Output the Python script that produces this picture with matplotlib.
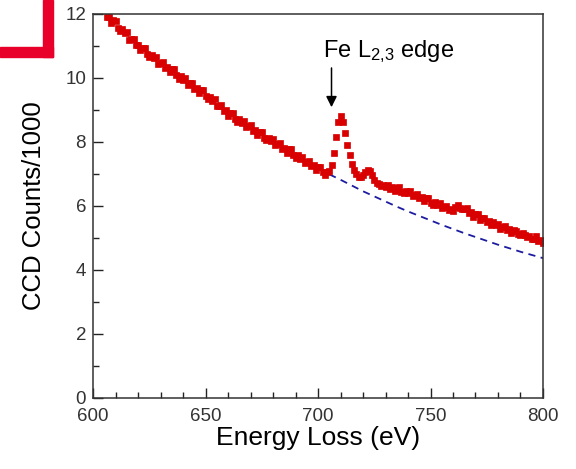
import numpy as np
import matplotlib
matplotlib.use("Agg")
import matplotlib.pyplot as plt
from matplotlib.ticker import MultipleLocator

plt.rcParams['font.family'] = ['Liberation Sans', 'DejaVu Sans']
plt.rcParams['mathtext.fontset'] = 'custom'
plt.rcParams['mathtext.rm'] = 'Liberation Sans'
plt.rcParams['mathtext.default'] = 'regular'

# espectro medido (eV, cuentas/1000), un punto por eV
energia = np.arange(606, 801)
cuentas = [
    11.90, 11.91, 11.72, 11.81, 11.78, 11.57, 11.46, 11.53, 11.39, 11.43,
    11.20, 11.21, 11.22, 11.02, 11.03, 10.86, 10.95, 10.94, 10.74, 10.65,
    10.73, 10.61, 10.66, 10.45, 10.48, 10.50, 10.32, 10.35, 10.18, 10.28,
    10.27, 10.08, 9.98, 10.06, 9.94, 10.00, 9.79, 9.83, 9.85, 9.67,
    9.70, 9.53, 9.63, 9.62, 9.43, 9.33, 9.41, 9.28, 9.33, 9.11,
    9.13, 9.15, 8.96, 8.99, 8.81, 8.91, 8.91, 8.72, 8.64, 8.72,
    8.60, 8.67, 8.46, 8.50, 8.52, 8.35, 8.38, 8.22, 8.32, 8.32,
    8.14, 8.06, 8.14, 8.03, 8.10, 7.90, 7.93, 7.96, 7.78, 7.82,
    7.66, 7.77, 7.77, 7.58, 7.50, 7.59, 7.48, 7.54, 7.34, 7.38,
    7.41, 7.24, 7.27, 7.11, 7.22, 7.22, 7.05, 6.97, 7.07,
    7.10, 7.28, 7.65, 8.15, 8.62, 8.80, 8.62, 8.28, 7.92, 7.58,
    7.30, 7.12, 7.00, 6.92, 6.90, 6.96, 7.06, 7.12, 7.08, 6.96,
    6.82, 6.72, 6.68, 6.64, 6.66, 6.60,
    6.66, 6.54, 6.58, 6.47, 6.57, 6.58, 6.45, 6.40, 6.48, 6.40,
    6.46, 6.30, 6.34, 6.36, 6.24, 6.27, 6.15, 6.24, 6.24, 6.10,
    6.04, 6.12, 6.03, 6.10, 5.94, 5.98, 6.00, 5.87, 5.91, 5.83,
    5.97, 6.03, 5.94, 5.91, 5.92, 5.93, 5.79, 5.80, 5.67, 5.75,
    5.75, 5.57, 5.61, 5.63, 5.49, 5.52, 5.41, 5.49, 5.42, 5.44,
    5.29, 5.34, 5.36, 5.24, 5.27, 5.15, 5.24, 5.21, 5.13, 5.10,
    5.17, 5.08, 5.03, 5.05, 4.97, 4.98, 5.06, 4.90, 4.95, 4.84,
]

# fondo ajustado bajo el borde
energia_fondo = [705, 710, 715, 720, 725, 730, 735, 740, 745, 750,
                 755, 760, 765, 770, 775, 780, 785, 790, 795, 800]
fondo = [6.99, 6.82, 6.64, 6.46, 6.30, 6.14, 5.98, 5.83, 5.69, 5.55,
         5.41, 5.28, 5.15, 5.03, 4.91, 4.79, 4.68, 4.57, 4.47, 4.37]

fig = plt.figure(figsize=(5.76, 4.69), dpi=100)
ax = fig.add_axes([0.1615, 0.1514, 0.7812, 0.8188])

ax.plot(energia_fondo, fondo, color='#1c1ca0', lw=1.3, ls=(0, (4, 3)))
ax.plot(energia, cuentas, 's', color='#d80000', ms=3.8, mec='#d80000', mew=0.5)

ax.set_xlim(600, 800)
ax.set_ylim(0, 12)
ax.xaxis.set_major_locator(MultipleLocator(50))
ax.xaxis.set_minor_locator(MultipleLocator(10))
ax.yaxis.set_major_locator(MultipleLocator(2))
ax.yaxis.set_minor_locator(MultipleLocator(1))
ax.tick_params(which='both', direction='in', top=False, right=False,
               labelsize=13.5, labelcolor='#333333', color='#222222')
ax.tick_params(which='major', length=7, width=1)
ax.tick_params(which='minor', length=4, width=1)
ax.tick_params(axis='x', pad=7)
ax.tick_params(axis='y', pad=5)
for s in ax.spines.values():
    s.set_color('#333333')
    s.set_linewidth(1.1)

ax.set_xlabel('Energy Loss (eV)', fontsize=19, labelpad=1)
ax.set_ylabel('CCD Counts/1000', fontsize=18.5, labelpad=14)

ax.text(702, 10.66, 'Fe L$_{2{,}3}$ edge', fontsize=17, va='baseline')
ax.annotate('', xy=(706, 9.0), xytext=(706, 10.4),
            arrowprops=dict(arrowstyle='-|>', color='black', lw=1.1,
                            mutation_scale=16))

# esquina roja de la diapositiva
fig.patches.append(plt.Rectangle((43 / 576, 1 - 57 / 469), 10 / 576, 57 / 469,
                                 transform=fig.transFigure, color='#e8002a'))
fig.patches.append(plt.Rectangle((0, 1 - 57 / 469), 53 / 576, 10 / 469,
                                 transform=fig.transFigure, color='#e8002a'))

fig.savefig('out.png', dpi=100)
